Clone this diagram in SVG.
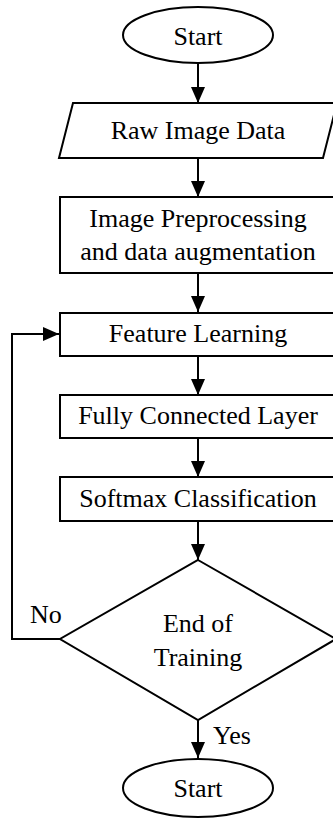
<svg xmlns="http://www.w3.org/2000/svg" width="333" height="819" viewBox="0 0 333 819">
  <style>
    .shape { fill: #fff; stroke: #000; stroke-width: 2; }
    .line { fill: none; stroke: #000; stroke-width: 2; }
    text { font-family: "Liberation Serif", "Times New Roman", serif; font-size: 26px; fill: #000; }
    .c { text-anchor: middle; }
  </style>
  <defs>
    <marker id="arrow" markerUnits="userSpaceOnUse" markerWidth="16" markerHeight="14" refX="16" refY="7" orient="auto">
      <path d="M0,0 L16,7 L0,14 Z" fill="#000"/>
    </marker>
  </defs>

  <g id="connectors">
    <line class="line" x1="198" y1="64" x2="198" y2="103" marker-end="url(#arrow)"/>
    <line class="line" x1="198" y1="158" x2="198" y2="197" marker-end="url(#arrow)"/>
    <line class="line" x1="198" y1="273" x2="198" y2="312" marker-end="url(#arrow)"/>
    <line class="line" x1="198" y1="356" x2="198" y2="395" marker-end="url(#arrow)"/>
    <line class="line" x1="198" y1="438" x2="198" y2="477" marker-end="url(#arrow)"/>
    <line class="line" x1="198" y1="521" x2="198" y2="560" marker-end="url(#arrow)"/>
    <line class="line" x1="198" y1="720" x2="198" y2="758" marker-end="url(#arrow)"/>
    <polyline class="line" points="60,639 12,639 12,334 59,334" marker-end="url(#arrow)"/>
    <text x="30" y="623">No</text>
    <text x="213" y="744">Yes</text>
  </g>

  <g id="start">
    <ellipse class="shape" cx="198" cy="35" rx="75" ry="28"/>
    <text class="c" x="198" y="45">Start</text>
  </g>

  <g id="raw-image-data">
    <polygon class="shape" points="73,103 337,103 323,158 59,158"/>
    <text class="c" x="198" y="139">Raw Image Data</text>
  </g>

  <g id="preprocessing">
    <rect class="shape" x="60" y="197" width="278" height="76"/>
    <text class="c" x="198" y="227">Image Preprocessing</text>
    <text class="c" x="198" y="260">and data augmentation</text>
  </g>

  <g id="feature-learning">
    <rect class="shape" x="60" y="313" width="278" height="43"/>
    <text class="c" x="198" y="342">Feature Learning</text>
  </g>

  <g id="fully-connected">
    <rect class="shape" x="60" y="395" width="278" height="43"/>
    <text class="c" x="198" y="424">Fully Connected Layer</text>
  </g>

  <g id="softmax">
    <rect class="shape" x="60" y="477" width="278" height="44"/>
    <text class="c" x="198" y="507">Softmax Classification</text>
  </g>

  <g id="end-of-training">
    <polygon class="shape" points="198,560 336,639 198,720 60,639"/>
    <text class="c" x="198" y="632">End of</text>
    <text class="c" x="198" y="666">Training</text>
  </g>

  <g id="end">
    <ellipse class="shape" cx="198" cy="788" rx="75" ry="29"/>
    <text class="c" x="198" y="797">Start</text>
  </g>
</svg>
